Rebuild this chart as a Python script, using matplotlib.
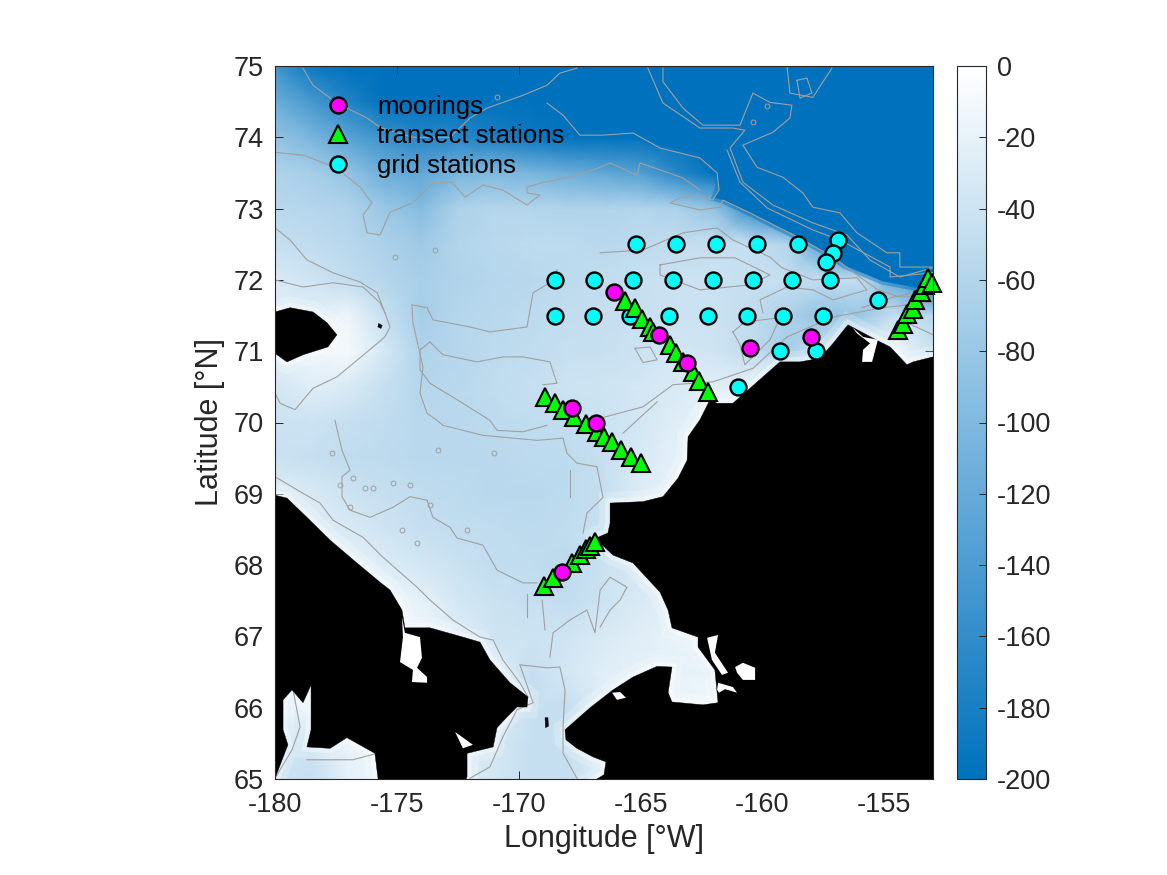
# -*- coding: utf-8 -*-
import numpy as np
import matplotlib
matplotlib.use("Agg")
import matplotlib.pyplot as plt
from matplotlib.colors import LinearSegmentedColormap, Normalize
from matplotlib.lines import Line2D

plt.rcParams["font.family"] = ["Liberation Sans", "DejaVu Sans"]
plt.rcParams["axes.unicode_minus"] = False

# station positions, lon / lat
moor_lon = [-166.09, -164.24, -163.09, -160.51, -158.0, -167.81, -166.83, -168.22]
moor_lat = [71.83, 71.23, 70.83, 71.04, 71.2, 70.2, 70.0, 67.9]

trans_lon = [-165.64, -165.23, -164.94, -164.61, -164.49, -163.79, -163.55, -163.26, -162.85, -162.6, -162.23,
             -168.92, -168.51, -168.18, -167.73, -167.23, -166.78, -166.5, -166.16, -165.8, -165.39, -164.98,
             -168.96, -168.59, -167.81, -167.48, -167.23, -167.07, -166.87,
             -154.43, -154.23, -154.07, -153.82, -153.74, -153.49, -153.33, -153.2, -153.05]
trans_lat = [71.70, 71.61, 71.45, 71.34, 71.27, 71.09, 70.97, 70.85, 70.71, 70.58, 70.43,
             70.36, 70.27, 70.18, 70.08, 69.98, 69.87, 69.8, 69.72, 69.61, 69.52, 69.43,
             67.71, 67.82, 68.03, 68.14, 68.23, 68.27, 68.32,
             71.30, 71.38, 71.52, 71.59, 71.72, 71.83, 71.93, 72.03, 71.96]

grid_lon = [-165.19, -163.55, -161.9, -160.22, -158.54, -156.9, -157.1, -157.39,
            -168.51, -166.91, -165.31, -163.67, -162.03, -160.39, -158.79, -157.23, -155.26,
            -168.51, -166.95, -165.43, -163.83, -162.23, -160.63, -159.15, -157.51,
            -159.28, -157.8, -161.0]
grid_lat = [72.5, 72.5, 72.5, 72.5, 72.5, 72.56, 72.38, 72.25,
            72.0, 72.0, 72.0, 72.0, 72.0, 72.0, 72.0, 72.0, 71.72,
            71.5, 71.5, 71.5, 71.5, 71.5, 71.5, 71.5, 71.5,
            71.0, 71.0, 70.5]

# bathymetry on a coarse grid (m)
depth_lon = [-180, -178.5, -177, -175.5, -174, -172.5, -171, -169.5, -168, -166.5,
             -165, -163.5, -162, -160.5, -159, -157.5, -156, -154.5, -153]
depth_lat = [75, 74.5, 74, 73.5, 73, 72.5, 72, 71.5, 71, 70.5, 70,
             69.5, 69, 68.5, 68, 67.5, 67, 66.5, 66, 65.5, 65]
depth = [
    [-150, -190, -220, -220, -220, -220, -220, -220, -220, -220, -220, -220, -220, -220, -220, -220, -220, -220, -220],
    [-115, -145, -175, -200, -220, -220, -220, -220, -220, -220, -220, -220, -220, -220, -220, -220, -220, -220, -220],
    [-85, -105, -130, -155, -170, -170, -180, -190, -200, -215, -220, -220, -220, -220, -220, -220, -220, -220, -220],
    [-62, -70, -85, -115, -125, -105, -100, -105, -115, -125, -135, -170, -220, -220, -220, -220, -220, -220, -220],
    [-55, -58, -62, -80, -95, -65, -58, -60, -62, -62, -60, -65, -85, -160, -220, -220, -220, -220, -220],
    [-45, -50, -55, -65, -75, -60, -55, -52, -52, -55, -52, -48, -45, -45, -60, -130, -220, -220, -220],
    [-30, -38, -48, -58, -68, -62, -58, -55, -52, -48, -44, -42, -42, -44, -46, -50, -50, -120, -200],
    [-25, -25, -15, -45, -70, -58, -55, -52, -48, -46, -44, -42, -42, -48, -65, -85, -80, -45, -55],
    [-20, -15, -8, -35, -62, -58, -52, -50, -45, -44, -40, -35, -38, -50, -70, -40, -15, -15, -40],
    [-35, -25, -30, -45, -58, -55, -50, -45, -40, -38, -35, -30, -25, -20, -20, -20, -20, -20, -20],
    [-42, -40, -45, -50, -55, -55, -52, -50, -48, -42, -35, -25, -18, -15, -15, -15, -15, -15, -15],
    [-42, -45, -50, -52, -55, -55, -55, -52, -52, -45, -32, -20, -15, -15, -15, -15, -15, -15, -15],
    [-25, -30, -40, -45, -50, -52, -55, -55, -52, -45, -28, -18, -15, -15, -15, -15, -15, -15, -15],
    [-20, -25, -30, -38, -45, -48, -50, -52, -50, -42, -25, -15, -15, -15, -15, -15, -15, -15, -15],
    [-15, -15, -20, -28, -35, -42, -48, -50, -52, -42, -30, -18, -15, -15, -15, -15, -15, -15, -15],
    [-15, -15, -15, -15, -20, -35, -42, -45, -48, -40, -30, -22, -15, -15, -15, -15, -15, -15, -15],
    [-15, -15, -15, -15, -15, -25, -38, -40, -38, -30, -25, -18, -15, -10, -10, -10, -10, -10, -10],
    [-15, -15, -15, -15, -15, -15, -25, -45, -35, -25, -20, -20, -18, -12, -10, -10, -10, -10, -10],
    [-20, -20, -15, -15, -15, -15, -20, -45, -45, -25, -20, -15, -12, -10, -10, -10, -10, -10, -10],
    [-35, -40, -20, -15, -15, -25, -35, -45, -45, -25, -10, -10, -10, -10, -10, -10, -10, -10, -10],
    [-40, -45, -20, -15, -15, -25, -35, -45, -45, -25, -10, -10, -10, -10, -10, -10, -10, -10, -10],
]

# deep basin, sharper edge than the coarse grid can give
deep_edge = [(-166.66, 75), (-166.66, 74.07), (-165.31, 74.06), (-164.2, 73.9), (-162.56, 73.78), (-161.86, 73.5),
             (-161.78, 73.3), (-161.95, 73.15), (-161.62, 73.12), (-160.51, 72.94), (-158.54, 72.6), (-157.35, 72.38),
             (-156.61, 72.2), (-155.05, 71.98), (-153, 71.85), (-153, 75)]

# land outlines
alaska = [(-153.0, 70.92), (-153.82, 70.85), (-154.07, 70.81), (-154.76, 71.06), (-155.17, 71.13), (-156.49, 71.37),
          (-157.10, 71.11), (-157.64, 70.90), (-158.46, 70.85), (-159.28, 70.85), (-159.98, 70.64), (-160.51, 70.48),
          (-161.21, 70.27), (-161.86, 70.27), (-162.15, 70.32), (-162.56, 70.04), (-163.05, 69.80), (-163.09, 69.47),
          (-163.46, 69.22), (-164.08, 68.96), (-164.90, 68.89), (-166.25, 68.87), (-166.25, 68.59), (-166.34, 68.45),
          (-166.75, 68.39), (-166.66, 68.31), (-166.13, 68.14), (-165.31, 68.03), (-164.74, 67.82), (-164.20, 67.62),
          (-163.87, 67.37), (-163.71, 67.12), (-162.89, 67.02), (-162.64, 66.99), (-162.64, 66.85), (-161.95, 66.53),
          (-161.86, 66.21), (-161.82, 66.07), (-162.44, 66.04), (-163.71, 66.08), (-163.87, 66.21), (-163.71, 66.57),
          (-164.32, 66.58), (-165.31, 66.43), (-166.13, 66.25), (-167.07, 66.0), (-168.10, 65.69), (-168.06, 65.55),
          (-167.61, 65.43), (-166.95, 65.31), (-166.42, 65.24), (-166.50, 65.06), (-166.79, 65.0), (-153, 65)]
chukotka = [(-180, 68.98), (-179.51, 68.94), (-178.69, 68.67), (-177.74, 68.35), (-176.64, 68.03), (-175.69, 67.76),
            (-175.28, 67.65), (-174.79, 67.37), (-174.67, 67.12), (-173.64, 67.12), (-172.29, 66.99), (-171.59, 66.92),
            (-171.18, 66.67), (-170.36, 66.35), (-169.62, 66.15), (-169.66, 66.01), (-170.07, 66.01), (-170.48, 65.87),
            (-170.89, 65.72), (-171.05, 65.45), (-172.12, 65.36), (-172.12, 65.03), (-172.16, 65.0), (-175.77, 65),
            (-175.9, 65.36), (-177.05, 65.58), (-177.74, 65.43), (-178.69, 65.45), (-178.52, 65.69), (-178.52, 66.32),
            (-178.85, 66.07), (-179.30, 66.25), (-179.67, 66.11), (-179.67, 65.69), (-179.47, 65.48), (-180, 65.01)]
wrangel = [(-180, 71.55), (-179.38, 71.61), (-178.44, 71.55), (-177.87, 71.40), (-177.46, 71.23), (-177.83, 71.06),
           (-178.85, 70.95), (-179.51, 70.85), (-180, 70.97)]
diomede = [(-168.92, 65.86), (-168.8, 65.86), (-168.78, 65.74), (-168.9, 65.72)]
herald = [(-175.75, 71.39), (-175.6, 71.36), (-175.65, 71.32), (-175.78, 71.34)]

# lagoons and lakes, white on the land
white_bits = [
    [(-162.27, 66.98), (-161.82, 67.02), (-161.95, 66.77), (-161.41, 66.49), (-161.66, 66.46), (-162.07, 66.67)],
    [(-161.12, 66.57), (-160.80, 66.63), (-160.30, 66.56), (-160.30, 66.39), (-160.80, 66.39), (-161.04, 66.49)],
    [(-161.82, 66.35), (-161.21, 66.29), (-161.04, 66.21), (-161.53, 66.26), (-161.78, 66.21), (-161.86, 66.25)],
    [(-166.17, 66.21), (-165.84, 66.22), (-165.6, 66.14), (-165.97, 66.11)],
    [(-156.3, 71.33), (-155.87, 71.2), (-155.26, 71.16), (-155.5, 70.85), (-155.91, 70.85), (-155.87, 71.02),
     (-155.58, 71.11), (-156.12, 71.25)],
    [(-174.79, 67.27), (-174.67, 67.05), (-174.05, 66.99), (-173.97, 66.70), (-174.17, 66.56), (-173.76, 66.43),
     (-173.76, 66.35), (-174.38, 66.36), (-174.34, 66.53), (-174.87, 66.64), (-174.75, 66.99)],
    [(-172.61, 65.66), (-171.88, 65.48), (-172.29, 65.43)],
]

# grey depth contours traced by eye
contours = [
    [(-178.85, 74.97), (-178.44, 74.73), (-177.46, 74.48), (-176.22, 74.27), (-175.69, 74.14), (-174.34, 74.0),
     (-172.82, 74.0), (-172, 74.27), (-171.3, 74.41), (-169.82, 74.59), (-168.84, 74.73), (-168.31, 74.9), (-167.61, 74.97)],
    [(-168.84, 74.48), (-168.18, 74.31), (-167.49, 74.03), (-166.54, 74.03), (-165.31, 74.06), (-164.2, 73.85),
     (-162.56, 73.71), (-161.86, 73.5), (-161.78, 73.26), (-162.03, 73.12), (-162.69, 73.19), (-163.38, 73.15),
     (-163.79, 73.08), (-162.56, 72.98), (-161.74, 73.02), (-161.62, 73.12), (-160.51, 72.94), (-158.54, 72.6),
     (-157.1, 72.32), (-156.0, 72.04), (-155.26, 71.86), (-154.36, 71.76), (-153, 71.79)],
    [(-164.7, 74.97), (-164.08, 74.48), (-162.56, 74.13), (-161.21, 74.13), (-160.72, 74.1), (-161.33, 73.85),
     (-160.8, 73.37), (-159.57, 73.05), (-157.93, 72.8), (-156.53, 72.63), (-155.59, 72.28), (-154.36, 72.04), (-153, 72.17)],
    [(-164.08, 74.97), (-164.08, 74.78), (-163.26, 74.41), (-162.44, 74.17), (-160.92, 74.17), (-160.39, 74.62),
     (-159.69, 74.49), (-158.79, 74.45), (-158.87, 74.27), (-159.57, 74.07), (-160.8, 73.89), (-160.22, 73.58),
     (-159.16, 73.44), (-158.34, 73.22), (-157.93, 73.02), (-156.82, 72.94), (-156.12, 72.66), (-154.89, 72.38),
     (-154.36, 72.38), (-154.36, 72.18), (-153, 72.18)],
    [(-158.99, 74.99), (-158.87, 74.62), (-157.93, 74.56), (-157.15, 74.97)],
    [(-158.58, 74.8), (-158.17, 74.83), (-157.97, 74.62), (-158.46, 74.55), (-158.58, 74.8)],
    [(-161.45, 73.82), (-160.92, 73.37), (-159.81, 73.01), (-157.93, 72.7), (-156.82, 72.56), (-154.76, 72.18),
     (-154.76, 72.04), (-153, 72.1)],
    [(-155.92, 71.61), (-154.64, 71.76), (-153, 71.86)],
    [(-158.99, 71.2), (-157.1, 71.48), (-155.05, 71.61), (-153, 71.69)],
    [(-154.07, 71.4), (-153, 71.23)],
    [(-166.66, 72.38), (-164.9, 72.42), (-163.26, 72.66), (-161.86, 72.73), (-161.21, 72.56), (-159.69, 72.32),
     (-159.2, 72.17), (-157.93, 72.0), (-156.12, 72.03), (-155.71, 71.86), (-157.1, 71.72), (-157.93, 71.86),
     (-158.99, 71.9), (-160.1, 71.72), (-159.98, 71.54)],
    [(-164.2, 72.21), (-162.56, 72.31), (-161.13, 72.31), (-159.69, 72.07), (-160.51, 71.93), (-162.56, 71.86),
     (-164.2, 72.07), (-164.2, 72.21)],
    [(-161.21, 71.27), (-160.72, 71.41), (-159.28, 71.47), (-159.69, 71.16), (-160.72, 70.81), (-160.92, 71.09), (-161.21, 71.27)],
    [(-166.66, 70.06), (-164.9, 70.22), (-163.67, 70.53), (-162.03, 70.57), (-160.39, 70.76), (-158.99, 71.2)],
    [(-165.23, 71.04), (-164.61, 71.06), (-164.32, 70.88), (-164.9, 70.84), (-165.23, 71.04)],
    [(-180, 73.79), (-178.85, 73.75), (-177.46, 73.57), (-176.51, 73.3), (-176.02, 73.08), (-176.39, 72.91),
     (-176.22, 72.66), (-175.69, 72.63), (-175.28, 72.95), (-174.34, 73.08), (-173.52, 73.36), (-172.74, 73.37),
     (-172.2, 73.16), (-171.47, 73.33), (-170.65, 73.26), (-169.66, 73.05), (-169.13, 73.19), (-169.66, 73.22),
     (-169.66, 73.3), (-169.0, 73.37), (-167.9, 73.44), (-166.66, 73.58), (-166.25, 73.64), (-165.15, 73.47),
     (-165.02, 73.64), (-163.26, 73.43), (-162.56, 73.26)],
    [(-180, 72.73), (-179.38, 72.56), (-178.69, 72.28), (-177.62, 72.1), (-176.51, 71.97), (-175.81, 71.82),
     (-175.49, 71.54), (-175.28, 71.34), (-175.49, 71.2), (-176.22, 70.99), (-177.46, 70.64), (-178.44, 70.48),
     (-179.18, 70.18), (-179.79, 70.27), (-180, 70.41)],
    [(-180, 72.0), (-178.85, 71.9), (-177.62, 71.96), (-176.39, 71.9), (-175.69, 71.68), (-175.49, 71.54)],
    [(-174.38, 71.65), (-173.76, 71.61), (-173.52, 71.44), (-172.0, 71.34), (-171.18, 71.27), (-169.66, 71.34),
     (-169.41, 71.82), (-168.72, 71.96), (-168.43, 72.14)],
    [(-174.38, 71.65), (-174.34, 71.4), (-173.93, 70.78), (-174.05, 70.41), (-173.76, 70.13), (-173.35, 70.03),
     (-173.11, 69.96), (-171.47, 69.82), (-169.25, 69.75), (-168.18, 69.78), (-168.02, 69.57), (-167.61, 69.43),
     (-166.79, 69.38), (-166.54, 68.95), (-167.2, 68.73), (-167.36, 68.45)],
    [(-173.64, 71.13), (-173.11, 70.95), (-171.71, 70.85), (-170.65, 70.92), (-169.82, 70.92), (-168.72, 70.85),
     (-168.43, 70.55), (-169.0, 70.53)],
    [(-173.64, 71.13), (-174.05, 71.02), (-174.05, 70.74), (-173.64, 70.55), (-172.53, 70.32), (-171.18, 70.03),
     (-170.89, 69.89), (-169.82, 69.87), (-168.84, 69.96)],
    [(-177.54, 70.03), (-177.25, 69.61), (-176.92, 69.33), (-177.25, 69.24), (-177.25, 68.96), (-176.92, 68.77),
     (-176.1, 68.67), (-175.16, 68.81), (-174.46, 68.96), (-173.76, 68.91), (-173.52, 68.67), (-172.82, 68.53),
     (-172.53, 68.38), (-171.47, 68.28), (-170.89, 67.93), (-169.82, 67.75), (-169.25, 67.75)],
    [(-180, 69.24), (-178.97, 69.03), (-178.15, 68.87), (-177.62, 68.63), (-176.39, 68.39), (-175.57, 68.11),
     (-174.17, 67.69), (-173.64, 67.51), (-172.7, 67.23), (-171.59, 66.99), (-171.05, 66.95), (-170.65, 66.67),
     (-169.95, 66.35), (-169.62, 66.15)],
    [(-169.95, 66.6), (-168.84, 66.56), (-168.31, 66.57), (-168.1, 66.25), (-168.18, 65.73), (-168.18, 65.36), (-167.61, 65.01)],
    [(-169.95, 66.6), (-169.41, 66.07), (-170.07, 65.97), (-170.65, 65.59), (-171.18, 65.17), (-172.0, 65.01)],
    [(-168.72, 66.71), (-168.59, 67.05), (-167.9, 67.23), (-167.2, 67.37), (-166.87, 67.05), (-166.66, 67.65),
     (-166.25, 67.83), (-165.56, 67.69), (-165.84, 67.51), (-166.25, 67.37), (-166.66, 67.13)],
    [(-179.26, 66.25), (-178.97, 65.73), (-179.3, 65.41), (-180, 65.01)],
    [(-178.69, 65.27), (-176.8, 65.27), (-175.81, 65.36)],
    [(-169.66, 67.6), (-169.66, 67.27)],
    [(-169.04, 67.51), (-168.92, 67.09)],
    [(-167.9, 69.33), (-167.9, 68.96)],
    [(-165.72, 69.85), (-164.32, 70.29)],
]
ring_lon = [-177.66, -175.16, -174.46, -173.64, -173.31, -171.01, -176.92, -175.98, -172.12, -174.79, -174.17,
            -177.33, -176.31, -176.8, -173.44, -175.08, -170.89, -159.81, -160.39]
ring_lat = [69.57, 69.15, 69.12, 68.84, 69.61, 69.57, 68.81, 69.08, 68.49, 68.49, 68.31,
            69.12, 69.08, 69.22, 72.42, 72.32, 74.56, 74.44, 74.21]

deep_blue = (0.0, 0.447, 0.741)
contour_grey = "#a0a0a0"
cmap = LinearSegmentedColormap.from_list("depthblue", [deep_blue, (1, 1, 1)])
norm = Normalize(-200, 0)

fig = plt.figure(figsize=(11.67, 8.75), dpi=100)
ax = fig.add_axes([275 / 1167, 96 / 875, 658 / 1167, 713 / 875])

ax.pcolormesh(depth_lon, depth_lat, np.array(depth), cmap=cmap, norm=norm, shading="gouraud", zorder=1)
ax.fill(*zip(*deep_edge), facecolor=deep_blue, edgecolor=deep_blue, lw=5, alpha=0.45, zorder=1.5)
ax.fill(*zip(*deep_edge), facecolor=deep_blue, edgecolor="none", zorder=1.6)

# whitish fringe along the coasts, then the land on top
for shape in [alaska, chukotka, wrangel]:
    ax.fill(*zip(*shape), facecolor="none", edgecolor="white", lw=16, alpha=0.2, zorder=2)
    ax.fill(*zip(*shape), facecolor="none", edgecolor="white", lw=7, alpha=0.35, zorder=2)

for line in contours:
    ax.plot(*zip(*line), color=contour_grey, lw=0.8, zorder=3)
ax.plot(ring_lon, ring_lat, ls="none", marker="o", ms=3.5, mfc="none", mec=contour_grey, mew=0.7, zorder=3)

for shape in [alaska, chukotka, wrangel, diomede, herald]:
    ax.fill(*zip(*shape), facecolor="black", edgecolor="black", lw=0.3, zorder=4)
for shape in white_bits:
    ax.fill(*zip(*shape), facecolor="white", edgecolor="none", zorder=5)

ax.plot(grid_lon, grid_lat, ls="none", marker="o", ms=11.5, mfc="#00ffff", mec="black", mew=1.7, zorder=6, clip_on=False)
ax.plot(trans_lon, trans_lat, ls="none", marker="^", ms=12.5, mfc="#00ff00", mec="black", mew=1.5, zorder=7, clip_on=False)
ax.plot(moor_lon, moor_lat, ls="none", marker="o", ms=11.5, mfc="#ff00ff", mec="black", mew=1.7, zorder=8, clip_on=False)

ax.set_xlim(-180, -153)
ax.set_ylim(65, 75)
ax.set_xticks(range(-180, -154, 5))
ax.set_yticks(range(65, 76))
ax.tick_params(direction="in", length=6, width=0.7, top=True, right=True, labelsize=19.5, colors="#262626")
ax.tick_params(axis="x", pad=9)
ax.tick_params(axis="y", pad=8)
for side in ax.spines.values():
    side.set_linewidth(0.8)
    side.set_color("#262626")
    side.set_zorder(10)
ax.set_xlabel("Longitude [°W]", fontsize=22, color="#262626", labelpad=5)
ax.set_ylabel("Latitude [°N]", fontsize=22, color="#262626", labelpad=6)

handles = [
    Line2D([], [], ls="none", marker="o", ms=11.5, mfc="#ff00ff", mec="black", mew=1.7),
    Line2D([], [], ls="none", marker="^", ms=12.5, mfc="#00ff00", mec="black", mew=1.5),
    Line2D([], [], ls="none", marker="o", ms=11.5, mfc="#00ffff", mec="black", mew=1.7),
]
ax.legend(handles, ["moorings", "transect stations", "grid stations"], loc="upper left", bbox_to_anchor=(0.069, 0.96),
          frameon=False, fontsize=18.5, labelspacing=0.22, handlelength=1.4, handletextpad=0.82,
          borderpad=0, borderaxespad=0, labelcolor="black").set_zorder(9)

cax = fig.add_axes([957 / 1167, 96 / 875, 29 / 1167, 713 / 875])
cb = fig.colorbar(plt.cm.ScalarMappable(norm=norm, cmap=cmap), cax=cax)
cb.set_ticks(range(-200, 1, 20))
cax.tick_params(direction="in", length=5, width=0.7, labelsize=19.5, colors="#262626", pad=8)
cb.outline.set_linewidth(0.8)
cb.outline.set_edgecolor("#262626")

fig.savefig("out.png", dpi=100)
